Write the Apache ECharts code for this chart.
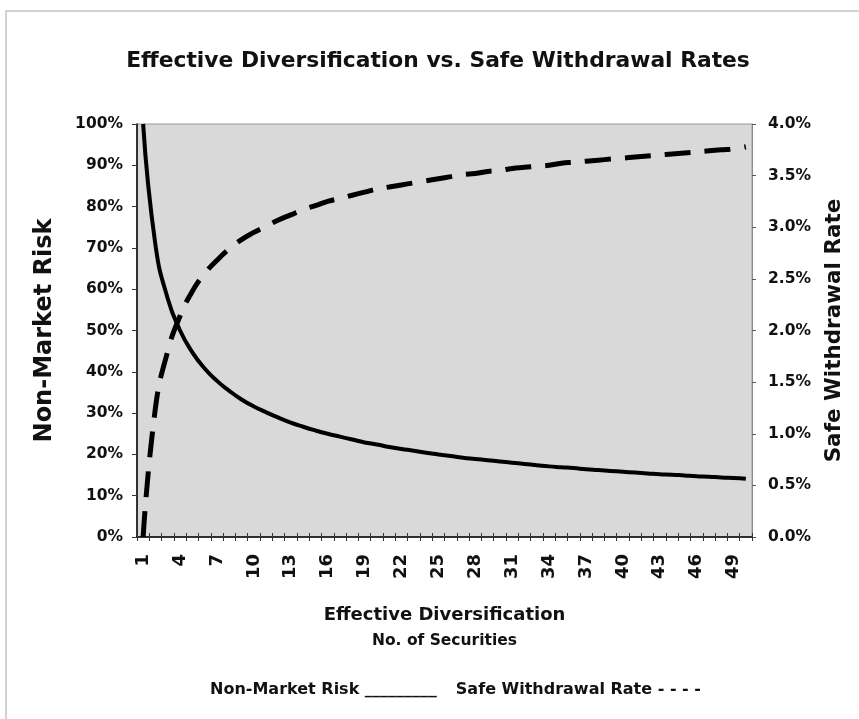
<!DOCTYPE html>
<html>
<head>
<meta charset="utf-8">
<script src="https://cdn.jsdelivr.net/npm/echarts@6/dist/echarts.min.js"></script>
<style>
  html, body { margin: 0; padding: 0; background: #ffffff; }
  #chart { width: 859px; height: 719px; }
</style>
</head>
<body>
<div id="chart"></div>
<script>
// Number of securities held (effective diversification)
const securities = [];
for (let n = 1; n <= 50; n++) securities.push(String(n));

// Non-market (diversifiable) risk, percent of single-stock risk
const nonMarketRisk = [
  100, 70.7, 57.7, 50.0, 44.7, 40.8, 37.8, 35.4, 33.3, 31.6,
  30.2, 28.9, 27.7, 26.7, 25.8, 25.0, 24.3, 23.6, 22.9, 22.4,
  21.8, 21.3, 20.9, 20.4, 20.0, 19.6, 19.2, 18.9, 18.6, 18.3,
  18.0, 17.7, 17.4, 17.1, 16.9, 16.7, 16.4, 16.2, 16.0, 15.8,
  15.6, 15.4, 15.2, 15.1, 14.9, 14.7, 14.6, 14.4, 14.3, 14.1
];

// Safe withdrawal rate, percent
const safeWithdrawalRate = [
  0.00, 1.25, 1.80, 2.14, 2.38, 2.55, 2.68, 2.79, 2.88, 2.95,
  3.01, 3.07, 3.12, 3.17, 3.21, 3.25, 3.28, 3.31, 3.34, 3.37,
  3.39, 3.41, 3.43, 3.45, 3.47, 3.49, 3.51, 3.52, 3.54, 3.55,
  3.57, 3.58, 3.59, 3.60, 3.62, 3.63, 3.64, 3.65, 3.66, 3.67,
  3.68, 3.69, 3.70, 3.71, 3.72, 3.73, 3.74, 3.75, 3.76, 3.78
];

const FONT = '"DejaVu Sans", "Liberation Sans", Arial, sans-serif';

const chart = echarts.init(document.getElementById('chart'), null, { renderer: 'canvas' });

chart.setOption({
  animation: false,
  backgroundColor: '#ffffff',
  textStyle: { fontFamily: FONT, color: '#000' },
  title: {
    text: 'Effective Diversification vs. Safe Withdrawal Rates',
    left: 433,
    textAlign: 'center',
    top: 45,
    textStyle: { fontFamily: FONT, fontSize: 21.8, fontWeight: 'bold', color: '#111' }
  },
  legend: {
    bottom: 21,
    left: 205,
    padding: 0,
    icon: 'none',
    itemWidth: 0,
    itemGap: 14,
    selectedMode: false,
    data: ['Non-Market Risk', 'Safe Withdrawal Rate'],
    formatter: function (name) {
      return name === 'Non-Market Risk' ? name + ' _________' : name + ' - - - -';
    },
    textStyle: { fontFamily: FONT, fontSize: 16, fontWeight: 'bold', color: '#111' }
  },
  graphic: [
    {
      type: 'rect',
      shape: { x: 6, y: 11, width: 1000, height: 1000 },
      style: { fill: 'none', stroke: '#c4c4c4', lineWidth: 1.5 },
      silent: true,
      z: -10
    }
  ],
  grid: {
    left: 137, right: 107, top: 124, bottom: 182,
    show: true,
    backgroundColor: '#d9d9d9',
    borderColor: '#9a9a9a',
    borderWidth: 1
  },
  xAxis: [
    {
      type: 'category',
      data: securities,
      boundaryGap: true,
      name: '{a|Effective Diversification}\n{b|No. of Securities}',
      nameLocation: 'middle',
      nameGap: 64,
      nameTextStyle: {
        fontFamily: FONT,
        rich: {
          a: { fontSize: 18, fontWeight: 'bold', color: '#111', lineHeight: 28, fontFamily: FONT },
          b: { fontSize: 15.5, fontWeight: 'bold', color: '#111', lineHeight: 24, fontFamily: FONT }
        }
      },
      axisLine: { show: true, lineStyle: { color: '#000', width: 1.5 } },
      axisTick: { show: true, interval: 0, length: 4, lineStyle: { color: '#333' } },
      axisLabel: {
        interval: 2,
        rotate: 90,
        margin: 17,
        fontFamily: FONT, fontSize: 18, fontWeight: 'bold', color: '#111'
      },
      splitLine: { show: false }
    },
    {
      // inward half of the crossing tick marks on the category axis
      type: 'category',
      data: securities,
      position: 'bottom',
      boundaryGap: true,
      axisLine: { show: false },
      axisTick: { show: true, inside: true, interval: 0, length: 4, lineStyle: { color: '#333' } },
      axisLabel: { show: false },
      splitLine: { show: false }
    }
  ],
  yAxis: [
    {
      type: 'value',
      min: 0, max: 100, interval: 10,
      position: 'left',
      name: 'Non-Market Risk',
      nameLocation: 'middle',
      nameRotate: 90,
      nameGap: 80,
      nameTextStyle: { fontFamily: FONT, fontSize: 24, fontWeight: 'bold', color: '#111' },
      axisLine: { show: true, lineStyle: { color: '#000', width: 1.5 } },
      axisTick: { show: true, length: 5, lineStyle: { color: '#333' } },
      axisLabel: {
        margin: 14,
        formatter: '{value}%',
        fontFamily: FONT, fontSize: 15.5, fontWeight: 'bold', color: '#111'
      },
      splitLine: { show: false }
    },
    {
      type: 'value',
      min: 0, max: 4, interval: 0.5,
      position: 'right',
      name: 'Safe Withdrawal Rate',
      nameLocation: 'middle',
      nameRotate: 90,
      nameGap: 71,
      nameTextStyle: { fontFamily: FONT, fontSize: 21.5, fontWeight: 'bold', color: '#111' },
      axisLine: { show: true, lineStyle: { color: '#8a8a8a', width: 1 } },
      axisTick: { show: true, length: 4, lineStyle: { color: '#555' } },
      axisLabel: {
        margin: 16,
        formatter: function (v) { return v.toFixed(1) + '%'; },
        fontFamily: FONT, fontSize: 15.5, fontWeight: 'bold', color: '#111'
      },
      splitLine: { show: false }
    }
  ],
  series: [
    {
      name: 'Non-Market Risk',
      type: 'line',
      xAxisIndex: 0,
      yAxisIndex: 0,
      data: nonMarketRisk,
      smooth: true,
      symbol: 'none',
      lineStyle: { color: '#000', width: 4 },
      z: 3
    },
    {
      name: 'Safe Withdrawal Rate',
      type: 'line',
      xAxisIndex: 0,
      yAxisIndex: 1,
      data: safeWithdrawalRate,
      smooth: true,
      symbol: 'none',
      lineStyle: { color: '#000', width: 5, type: [26, 14], cap: 'butt' },
      z: 4
    }
  ]
});
</script>
</body>
</html>
